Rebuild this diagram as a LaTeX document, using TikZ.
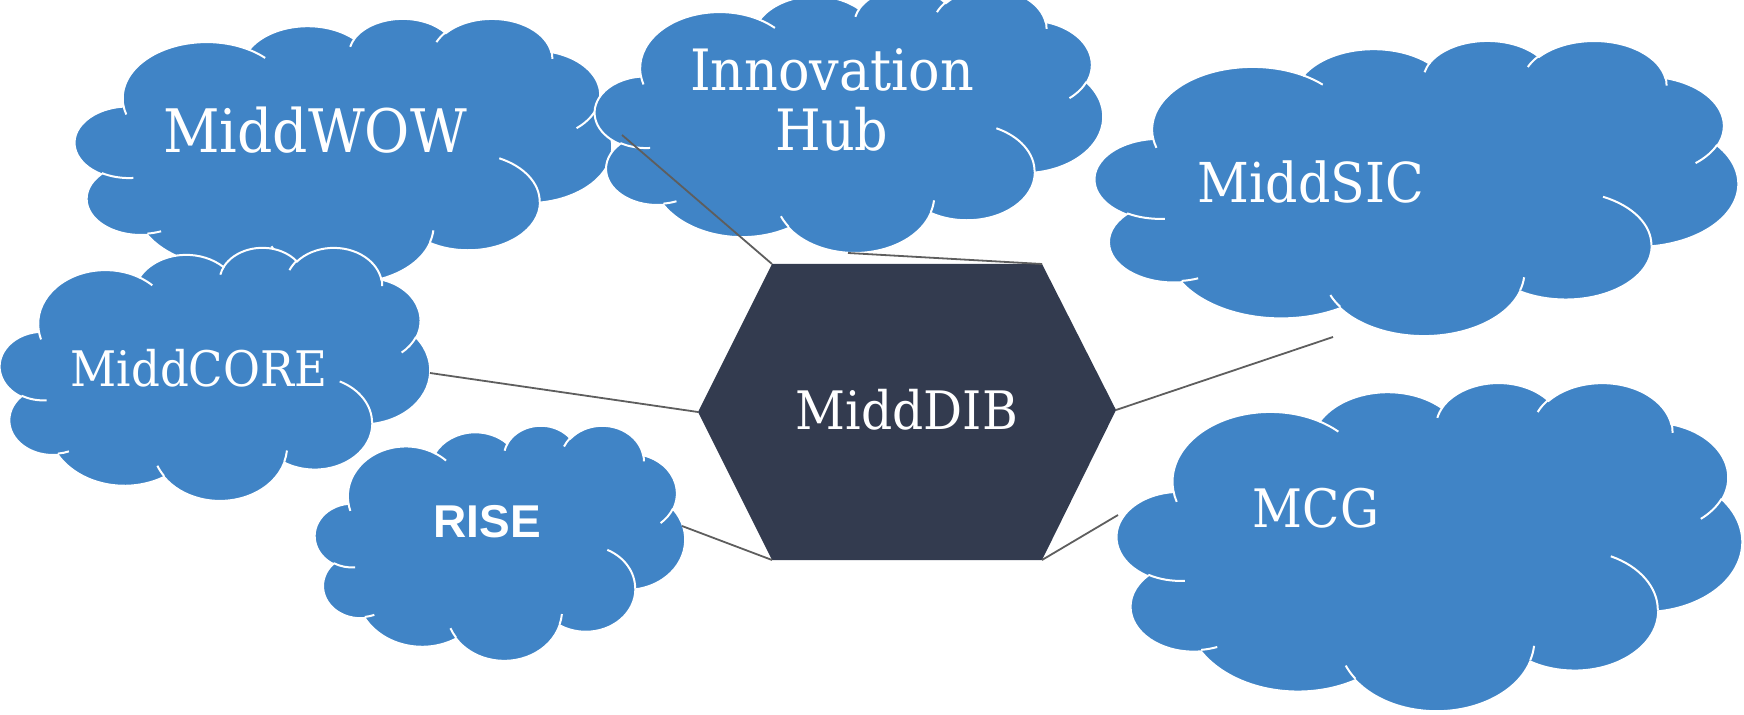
\documentclass[tikz,border=0pt]{standalone}
\usepackage{fontspec}
\setmainfont{DejaVu Serif}[FakeStretch=0.92]
\newfontfamily\risefont{Liberation Sans}
\definecolor{cloudblue}{HTML}{4084C6}
\definecolor{hexdark}{HTML}{333B4F}
\definecolor{linegray}{HTML}{5E5E5E}
\tikzset{
  cloudfill/.style={fill=cloudblue, draw=white, line width=1pt},
  cloudline/.style={draw=white, line width=1pt},
  lbl/.style={text=white, inner sep=0pt, anchor=center},
  conn/.style={draw=linegray, line width=0.9pt},
}
% arc given in Office-cloud path space (wR, hR, start, sweep), geometric angles
\newcommand\carc[4]{arc[x radius={(#1)*\csx*0.5pt}, y radius={(#2)*\csy*0.5pt}, start angle={-atan2((#1)*sin(#3),(#2)*cos(#3))}, delta angle={-mod(atan2((#1)*sin((#3)+(#4)),(#2)*cos((#3)+(#4)))-atan2((#1)*sin(#3),(#2)*cos(#3))+720,360)}]}
\newcommand\cpt[2]{({\cox+(#1)*\csx},{\coy+(#2)*\csy})}
\newcommand\mycloud[4]{%
  \pgfmathsetmacro\cox{#1}\pgfmathsetmacro\coy{#2}%
  \pgfmathsetmacro\csx{(#3)/43.2}\pgfmathsetmacro\csy{(#4)/43.2}%
  \filldraw[cloudfill] \cpt{3.900}{14.370}
    \carc{6.753}{9.190}{-190.4875}{123.7805}
    \carc{5.333}{7.267}{-144.1024}{89.9452}
    \carc{4.365}{5.945}{-145.8079}{99.7230}
    \carc{4.857}{6.595}{-130.9861}{117.2417}
    \carc{5.333}{7.273}{-78.7089}{109.0269}
    \carc{6.775}{9.220}{-46.2673}{130.2690}
    \carc{5.785}{7.867}{0.6250}{114.0333}
    \carc{6.752}{9.215}{22.4516}{115.1726}
    \carc{7.720}{10.543}{66.2426}{75.7110}
    \carc{4.360}{5.918}{-274.9421}{146.7356}
    \carc{4.345}{5.945}{-246.8285}{152.5189} -- cycle;
  \draw[cloudline]
    \cpt{4.693}{26.177} \carc{4.345}{5.945}{86.7420}{26.4295}
    \cpt{6.928}{34.899} \carc{4.360}{5.918}{73.6105}{11.4475}
    \cpt{16.478}{39.090} \carc{6.752}{9.215}{137.6242}{14.0811}
    \cpt{28.827}{34.751} \carc{6.752}{9.215}{6.4533}{15.9984}
    \cpt{34.129}{22.954} \carc{5.785}{7.867}{-70.2924}{70.9174}
    \cpt{41.798}{15.354} \carc{5.333}{7.273}{30.3180}{27.7515}
    \cpt{38.324}{5.426} \carc{4.857}{6.595}{-13.7443}{14.8570}
    \cpt{29.078}{3.952} \carc{4.857}{6.595}{-149.1815}{18.1959}
    \cpt{22.141}{4.720} \carc{4.365}{5.945}{-163.4943}{17.6881}
    \cpt{14.000}{5.192} \carc{6.753}{9.190}{-66.7070}{12.3194}
    \cpt{4.127}{15.789} \carc{6.753}{9.190}{157.6544}{11.8582};
}
\begin{document}
\begin{tikzpicture}[x=0.5pt, y=-0.5pt]
  \useasboundingbox (0,0) rectangle (1744,715);
  \clip (0,0) rectangle (1744,715);
  % clouds
  \mycloud{75}{18}{537}{264}
  \mycloud{595}{-12}{508}{264}
  \mycloud{1095}{40}{643}{295}
  \mycloud{0}{247}{430}{253}
  \mycloud{315}{425}{370}{235}
  \mycloud{1117}{382}{625}{328}
  % hexagon
  \coordinate (h1) at (772,264);
  \coordinate (h2) at (1042,264);
  \coordinate (h3) at (1116,410);
  \coordinate (h4) at (1042,560);
  \coordinate (h5) at (772,560);
  \coordinate (h6) at (698,412);
  \fill[hexdark] (h1) -- (h2) -- (h3) -- (h4) -- (h5) -- (h6) -- cycle;
  % labels
  \node[lbl, font=\fontsize{30}{34}\selectfont] (wow) at (315,130) {MiddWOW};
  \node[lbl, align=center, font=\fontsize{28.5}{30}\selectfont] (hub) at (832,100) {Innovation\\Hub};
  \node[lbl, font=\fontsize{27.5}{32}\selectfont] (sic) at (1311,182) {MiddSIC};
  \node[lbl, font=\fontsize{24.5}{28}\selectfont] (core) at (199,368) {MiddCORE};
  \node[lbl, font=\risefont\bfseries\fontsize{23}{28}\selectfont] (rise) at (487,522) {RISE};
  \node[lbl, font=\fontsize{26.5}{30}\selectfont] (mcg) at (1316,508) {MCG};
  \node[lbl, font=\fontsize{26.5}{30}\selectfont] (dib) at (907,410) {MiddDIB};
  % connector ends on clouds
  \coordinate (cwow) at (622,135);
  \coordinate (chub) at (848,253);
  \coordinate (csic) at (1333,337);
  \coordinate (ccore) at (430,373);
  \coordinate (crise) at (682,526);
  \coordinate (cmcg) at (1118,515);
  \draw[conn] (cwow) -- (h1);
  \draw[conn] (chub) -- (h2);
  \draw[conn] (csic) -- (h3);
  \draw[conn] (ccore) -- (h6);
  \draw[conn] (crise) -- (h5);
  \draw[conn] (cmcg) -- (h4);
\end{tikzpicture}
\end{document}
